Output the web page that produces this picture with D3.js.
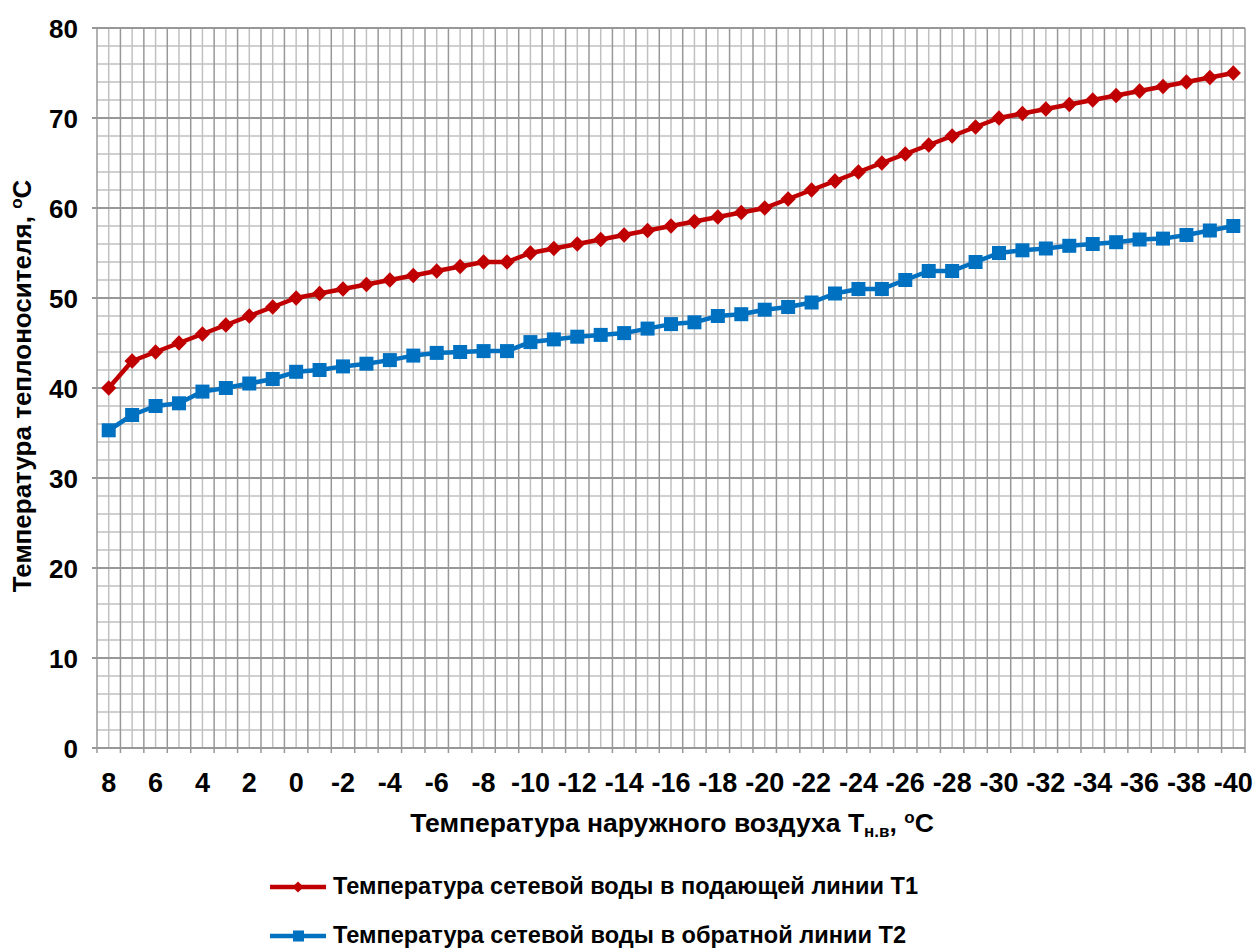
<!DOCTYPE html>
<html><head><meta charset="utf-8">
<script src="https://cdn.jsdelivr.net/npm/d3@7/dist/d3.min.js"></script>
<style>body{margin:0;background:#fff;} text{font-family:"Liberation Sans",Arial,sans-serif;font-weight:bold;fill:#000;}</style>
</head><body><svg id="c" width="1256" height="948"></svg>
<script>
const categories = [8,7,6,5,4,3,2,1,0,-1,-2,-3,-4,-5,-6,-7,-8,-9,-10,-11,-12,-13,-14,-15,-16,-17,-18,-19,-20,-21,-22,-23,-24,-25,-26,-27,-28,-29,-30,-31,-32,-33,-34,-35,-36,-37,-38,-39,-40];
const t1 = [40,43,44,45,46,47,48,49,50,50.5,51,51.5,52,52.5,53,53.5,54,54,55,55.5,56,56.5,57,57.5,58,58.5,59,59.5,60,61,62,63,64,65,66,67,68,69,70,70.5,71,71.5,72,72.5,73,73.5,74,74.5,75];
const t2 = [35.3,37,38,38.3,39.6,40,40.5,41,41.8,42,42.4,42.7,43.1,43.6,43.9,44,44.1,44.1,45.1,45.4,45.7,45.9,46.1,46.6,47.1,47.3,48,48.2,48.7,49,49.5,50.5,51,51,52,53,53,54,55,55.3,55.5,55.8,56,56.2,56.5,56.6,57,57.5,58];
const yTicks = [0,10,20,30,40,50,60,70,80];
const seriesNames = ["Температура сетевой воды в подающей линии Т1","Температура сетевой воды в обратной линии Т2"];

const svg = d3.select("#c");
const L=97, R=1245, T=28, B=748;
const x = d3.scaleBand().domain(categories).range([L,R]).padding(0);
const y = d3.scaleLinear().domain([0,80]).range([B,T]);
const g = svg.append("g");

g.selectAll(".hmin").data(d3.range(0,81,2).filter(v=>v%10)).enter().append("line")
 .attr("x1",L).attr("x2",R).attr("y1",d=>y(d)).attr("y2",d=>y(d)).attr("stroke","#c0c0c0").attr("stroke-width",1.5);
g.selectAll(".vmin").data(categories).enter().append("line")
 .attr("x1",d=>x(d)+x.bandwidth()/2).attr("x2",d=>x(d)+x.bandwidth()/2).attr("y1",T).attr("y2",B).attr("stroke","#c0c0c0").attr("stroke-width",1.5);
const bounds = categories.map(d=>x(d)).concat([R]);
g.selectAll(".vmaj").data(bounds).enter().append("line")
 .attr("x1",d=>d).attr("x2",d=>d).attr("y1",T).attr("y2",B).attr("stroke","#989898").attr("stroke-width",1.5);
g.selectAll(".hmaj").data(yTicks).enter().append("line")
 .attr("x1",L-5).attr("x2",R).attr("y1",d=>y(d)).attr("y2",d=>y(d)).attr("stroke","#989898").attr("stroke-width",1.8);
g.selectAll(".xt").data(bounds).enter().append("line")
 .attr("x1",d=>d).attr("x2",d=>d).attr("y1",B).attr("y2",B+5).attr("stroke","#989898").attr("stroke-width",1.5);

svg.selectAll(".yl").data(yTicks).enter().append("text")
 .attr("x",78).attr("y",d=>y(d)+9.5).attr("text-anchor","end").attr("font-size",26).text(d=>d);
svg.selectAll(".xl").data(categories.filter(d=>d%2===0)).enter().append("text")
 .attr("x",d=>x(d)+x.bandwidth()/2).attr("y",792).attr("text-anchor","middle").attr("font-size",27).text(d=>d);

const xt = svg.append("text").attr("x",672).attr("y",832).attr("text-anchor","middle").attr("font-size",26.5);
xt.append("tspan").text("Температура наружного воздуха Т");
xt.append("tspan").attr("font-size",17).attr("dy",5).text("н.в");
xt.append("tspan").attr("dy",-5).text(", ");
xt.append("tspan").attr("font-size",17).attr("dy",-9).text("о");
xt.append("tspan").attr("dy",9).text("С");

const yt = svg.append("text").attr("transform","translate(31,386) rotate(-90)").attr("text-anchor","middle").attr("font-size",26);
yt.append("tspan").text("Температура теплоносителя, ");
yt.append("tspan").attr("font-size",17).attr("dy",-9).text("о");
yt.append("tspan").attr("dy",9).text("С");

const line = vals => d3.line().x((d,i)=>x(categories[i])+x.bandwidth()/2).y(d=>y(d))(vals);
svg.append("path").attr("d",line(t2)).attr("fill","none").attr("stroke","#0070C0").attr("stroke-width",4.5).attr("stroke-linejoin","round");
svg.selectAll(".m2").data(t2).enter().append("rect")
 .attr("x",(d,i)=>x(categories[i])+x.bandwidth()/2-7).attr("y",d=>y(d)-7).attr("width",14).attr("height",14).attr("fill","#0070C0");
svg.append("path").attr("d",line(t1)).attr("fill","none").attr("stroke","#C00000").attr("stroke-width",4.5).attr("stroke-linejoin","round");
const diamond = d3.symbol().type(d3.symbolDiamond2).size(150);
svg.selectAll(".m1").data(t1).enter().append("path")
 .attr("transform",(d,i)=>`translate(${x(categories[i])+x.bandwidth()/2},${y(d)})`).attr("d",diamond).attr("fill","#C00000");

const leg = [{c:"#C00000",m:"d",y:887,w:585},{c:"#0070C0",m:"s",y:936,w:573}];
leg.forEach((l,i)=>{
  svg.append("line").attr("x1",270).attr("x2",326).attr("y1",l.y).attr("y2",l.y).attr("stroke",l.c).attr("stroke-width",4.5);
  if(l.m==="d") svg.append("path").attr("transform",`translate(298,${l.y})`).attr("d",d3.symbol().type(d3.symbolDiamond2).size(80)).attr("fill",l.c);
  else svg.append("rect").attr("x",293).attr("y",l.y-5.5).attr("width",11).attr("height",11).attr("fill",l.c);
  svg.append("text").attr("x",333).attr("y",l.y+7).attr("font-size",24).attr("textLength",l.w).attr("lengthAdjust","spacingAndGlyphs").text(seriesNames[i]);
});
</script></body></html>
